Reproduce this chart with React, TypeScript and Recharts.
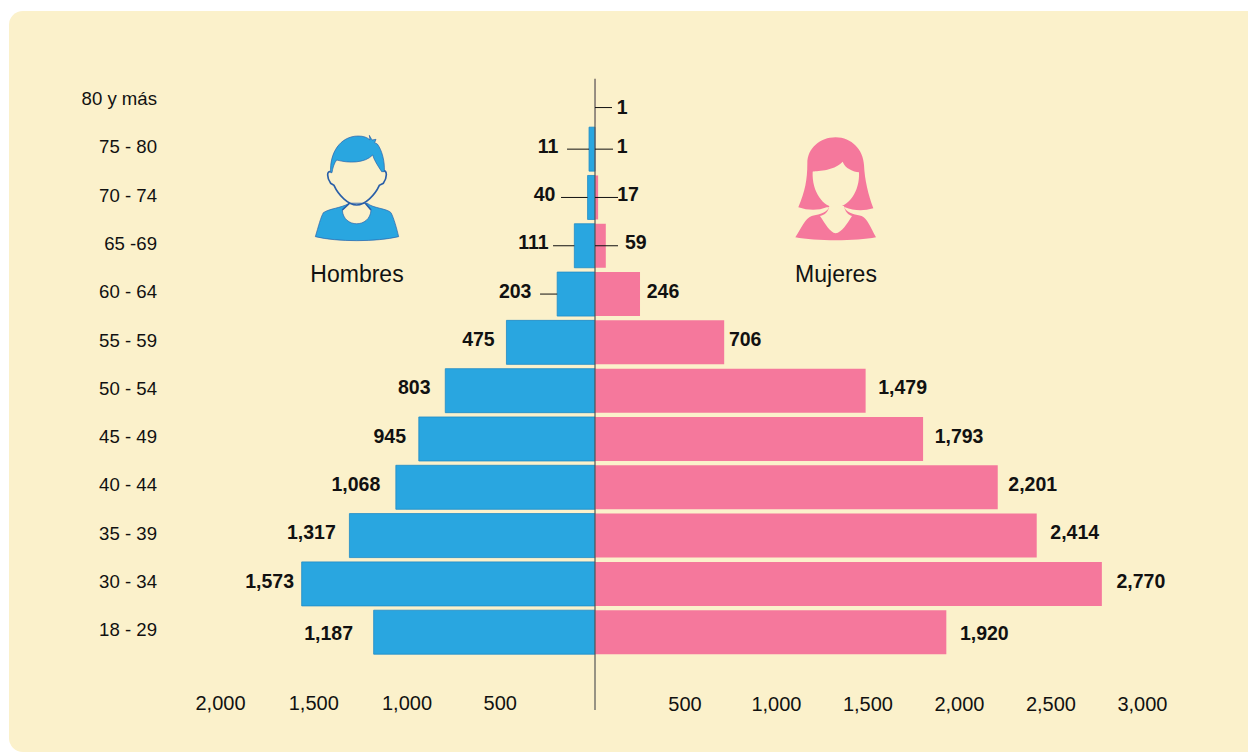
import React from 'react';
import { BarChart, Bar, XAxis, YAxis, LabelList, ReferenceLine } from 'recharts';

// rows run from the top of the pyramid down
const ageGroups = ['80 y más', '75 - 80', '70 - 74', '65 -69', '60 - 64', '55 - 59', '50 - 54', '45 - 49', '40 - 44', '35 - 39', '30 - 34', '18 - 29'];
const hombres = [0, 11, 40, 111, 203, 475, 803, 945, 1068, 1317, 1573, 1187];
const mujeres = [1, 1, 17, 59, 246, 706, 1479, 1793, 2201, 2414, 2770, 1920];
const hombresTicks = [-2000, -1500, -1000, -500];
const mujeresTicks = [500, 1000, 1500, 2000, 2500, 3000];

const chartData = ageGroups.map((age, i) => ({
  age,
  hombres: -hombres[i],
  mujeres: mujeres[i],
}));

// label placement, per row: gap from the bar end to the label centre
const hombresGap = [0, 41, 43, 41, 42, 28, 31, 29, 40, 38, 32, 45];
const mujeresGap = [27, 27, 30, 30, 23, 21, 37, 36, 35, 38, 39, 38];
const labelDy = [5.7, -3.5, -3.8, -4, -3.5, -3.8, -4, -3.4, -3.7, -4, -3.3, 0.8];
// leader lines only exist on the small rows, length measured from the axis
const hombresLeader = [0, 28, 34, 42, 55];
const mujeresLeader = [17, 18, 23, 23];

const BLUE = '#29A6E0';
const PINK = '#F5789C';
const CREAM = '#FBF1CB';
const OUTLINE = '#2A5FA8';
const FONT = '"Liberation Sans", Arial, sans-serif';

const makeLabel = (side: 'h' | 'm') => (props: any) => {
  const { x, y, width, height, value } = props;
  if (!value) return null;
  // LabelList skips the empty top row of hombres, so find the row by value
  const row = side === 'h' ? hombres.indexOf(Math.abs(value)) : props.index;
  const cy = y + height / 2 + (row === 0 ? 6.7 : 0);
  const textY = y + height / 2 + labelDy[row];
  const textProps = { y: textY, textAnchor: 'middle' as const, dominantBaseline: 'central' as const, fontFamily: FONT, fontSize: 19.5, fontWeight: 'bold', fill: '#111' };
  if (side === 'h') {
    const end = Math.min(x, x + width);
    const zero = Math.max(x, x + width);
    const len = hombresLeader[row];
    return (
      <g>
        {len ? <line x1={zero - len} x2={end} y1={cy} y2={cy} stroke="#111" strokeWidth={1} /> : null}
        <text x={end - hombresGap[row]} {...textProps}>{Math.abs(value).toLocaleString('en-US')}</text>
      </g>
    );
  }
  const len = mujeresLeader[row];
  return (
    <g>
      {len ? <line x1={x} x2={x + len} y1={cy} y2={cy} stroke="#111" strokeWidth={1} /> : null}
      <text x={x + width + mujeresGap[row]} {...textProps}>{Number(value).toLocaleString('en-US')}</text>
    </g>
  );
};

const AgeTick = ({ x, y, payload }: any) => (
  <text x={x} y={y - 2.5} textAnchor="end" dominantBaseline="central" fontFamily={FONT} fontSize={18.6} fill="#111">
    {payload.value}
  </text>
);

const ValueTick = ({ x, y, payload }: any) => (
  <text x={x - 1.5} y={y - 15} textAnchor="middle" dominantBaseline="central" fontFamily={FONT} fontSize={20} fill="#111">
    {Math.abs(payload.value).toLocaleString('en-US')}
  </text>
);

// the rule starts just under the top of the plot area
const AxisLine = ({ x1, x2, y1, y2 }: any) => (
  <line x1={x1} x2={x2} y1={Math.min(y1, y2) + 2} y2={Math.max(y1, y2)} stroke="#555" strokeWidth={1.2} />
);

const ManIcon = () => (
  <svg width={130} height={170} viewBox="0 0 390 510" style={{ position: 'absolute', left: 290, top: 120 }}>
    <path d="M76,350 C85,320 92,292 100,278 C120,265 150,265 178,250 L232,250 C250,265 290,265 303,278 C312,295 320,325 326,350 C260,366 140,366 76,350 Z" fill={BLUE} stroke={OUTLINE} strokeWidth={2} />
    <path d="M157,270 C160,325 240,325 243,270 L226,250 L178,250 Z" fill={CREAM} stroke={OUTLINE} strokeWidth={2} />
    <path d="M157,270 L178,250 M243,270 L226,250" fill="none" stroke={OUTLINE} strokeWidth={5} />
    <path d="M122,155 C110,152 110,172 122,190 L132,196 C145,225 175,255 200,255 C225,255 255,225 268,196 L280,190 C292,172 292,152 280,152" fill="none" stroke={OUTLINE} strokeWidth={5} />
    <path d="M122,158 C118,100 150,48 205,48 C220,48 232,52 240,60 L238,46 L246,60 L258,58 L254,68 L262,72 C276,90 285,125 283,155 L275,155 C262,135 252,120 248,105 C225,130 175,130 140,120 C132,130 128,145 126,158 Z" fill={BLUE} stroke={OUTLINE} strokeWidth={2} />
  </svg>
);

const WomanIcon = () => (
  <svg width={130} height={170} viewBox="0 0 390 510" style={{ position: 'absolute', left: 770, top: 120 }}>
    <path d="M85,262 C105,215 112,180 112,130 C112,85 150,52 197,52 C245,52 280,90 282,135 C284,180 295,225 310,265 C280,274 250,272 225,262 L170,262 C145,272 115,272 85,262 Z" fill={PINK} />
    <path d="M76,352 C95,322 105,296 125,288 C140,284 165,284 178,262 L222,262 C235,284 260,284 275,288 C292,296 302,322 318,352 C260,364 135,364 76,352 Z" fill={PINK} />
    <path d="M150,288 C165,285 175,275 178,258 L222,258 C225,275 235,285 246,288 C232,310 215,338 197,340 C180,338 165,310 150,288 Z" fill={CREAM} />
    <path d="M128,155 C135,152 190,155 218,125 C225,145 250,155 267,157 C270,215 235,262 197,262 C160,262 125,215 128,155 Z" fill={CREAM} />
  </svg>
);

const captionStyle: React.CSSProperties = {
  position: 'absolute',
  top: 261,
  fontFamily: FONT,
  fontSize: 23,
  color: '#111',
  lineHeight: '26px',
  transform: 'translateX(-50%)',
};

const App: React.FC = () => {
  return (
    <div style={{ position: 'absolute', left: 0, top: 0, width: 1248, height: 753, overflow: 'hidden', background: '#fff' }}>
      <div style={{ position: 'absolute', left: 9, top: 11, width: 1260, height: 741, background: CREAM, borderRadius: 14 }} />
      <div style={{ position: 'absolute', left: 0, top: 0 }}>
        <BarChart
          layout="vertical"
          width={1248}
          height={753}
          data={chartData}
          margin={{ top: 76.85, right: 53, bottom: 3, left: 0 }}
          barCategoryGap={2}
        >
          {/* two scales: the left half of the original is drawn slightly wider than the right */}
          <XAxis xAxisId="h" type="number" domain={[-2145, 3217]} ticks={hombresTicks} interval={0} height={1} axisLine={false} tickLine={false} tick={<ValueTick />} allowDataOverflow />
          <XAxis xAxisId="m" type="number" domain={[-2186, 3279]} ticks={mujeresTicks} interval={0} height={39} axisLine={false} tickLine={false} tick={<ValueTick />} allowDataOverflow />
          <YAxis type="category" dataKey="age" width={195} axisLine={false} tickLine={false} tickSize={0} tickMargin={38} interval={0} padding={{ top: 0, bottom: 53.5 }} tick={<AgeTick />} />
          <Bar xAxisId="h" dataKey="hombres" stackId="piramide" fill={BLUE} stroke="#1F8CC6" strokeWidth={0.8} minPointSize={(v: any) => (v ? 6 : 0)} isAnimationActive={false}>
            <LabelList dataKey="hombres" content={makeLabel('h')} />
          </Bar>
          <Bar xAxisId="m" dataKey="mujeres" stackId="piramide" fill={PINK} isAnimationActive={false}>
            <LabelList dataKey="mujeres" content={makeLabel('m')} />
          </Bar>
          <ReferenceLine xAxisId="m" x={0} shape={<AxisLine />} />
        </BarChart>
      </div>
      <ManIcon />
      <WomanIcon />
      <div style={{ ...captionStyle, left: 357 }}>Hombres</div>
      <div style={{ ...captionStyle, left: 836 }}>Mujeres</div>
    </div>
  );
};

export default App;
